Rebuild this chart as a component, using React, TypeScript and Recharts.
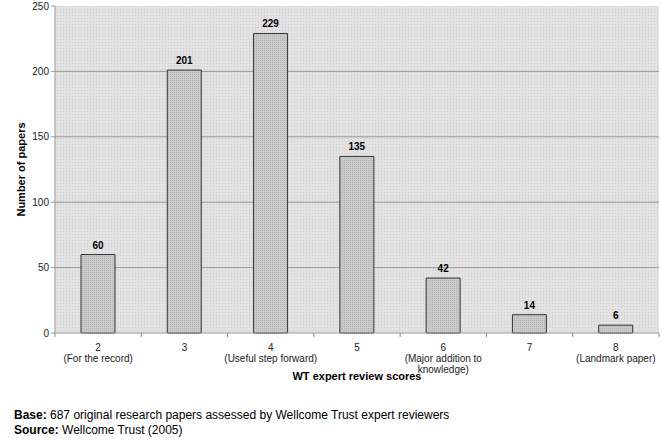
import { BarChart, Bar, XAxis, YAxis, CartesianGrid, LabelList, Label } from "recharts";

const scores = ["2", "3", "4", "5", "6", "7", "8"];
const scoreNotes = [["(For the record)"], [], ["(Useful step forward)"], [], ["(Major addition to", "knowledge)"], [], ["(Landmark paper)"]];
const papers = [60, 201, 229, 135, 42, 14, 6];
const yTicks = [0, 50, 100, 150, 200, 250];

const data = scores.map((s, i) => ({ score: s, papers: papers[i], idx: i }));

const font = "'Liberation Sans', Arial, sans-serif";
const W = 662;
const H = 441;
const plotLeft = 55;
const plotRight = 659;
const band = (plotRight - plotLeft) / scores.length;

const ScoreTick = ({ x, y, payload, index }: any) => {
  const notes = scoreNotes[index] || [];
  return (
    <g>
      <line x1={x - band / 2} x2={x - band / 2} y1={y - 8} y2={y - 4} stroke="#888" />
      {index === scores.length - 1 && (
        <line x1={x + band / 2} x2={x + band / 2} y1={y - 8} y2={y - 4} stroke="#888" />
      )}
      <text x={x} y={y + 10} textAnchor="middle" fontSize={10} fill="#222" fontFamily={font}>
        {payload.value}
      </text>
      {notes.map((n: string, k: number) => (
        <text key={k} x={x} y={y + 21 + k * 11} textAnchor="middle" fontSize={10} fill="#222" fontFamily={font}>
          {n}
        </text>
      ))}
    </g>
  );
};

export default function App() {
  return (
    <div style={{ position: "absolute", left: 0, top: 0, width: W, height: H, background: "#fff", fontFamily: font }}>
      <BarChart
        width={W}
        height={H}
        data={data}
        margin={{ top: 6, right: W - plotRight, left: 0, bottom: 68 }}
      >
        <defs>
          <pattern id="dots" width="3" height="3" patternUnits="userSpaceOnUse">
            <rect width="3" height="3" fill="#e2e2e2" />
            <rect width="1" height="1" fill="#cfcfcf" />
          </pattern>
          <pattern id="bardots" width="2" height="2" patternUnits="userSpaceOnUse">
            <rect width="2" height="2" fill="#cacaca" />
            <rect width="1" height="1" fill="#b4b4b4" />
          </pattern>
        </defs>
        <CartesianGrid vertical={false} stroke="#999" fill="url(#dots)" horizontalValues={[50, 100, 150, 200]} />
        <XAxis
          dataKey="score"
          axisLine={{ stroke: "#999" }}
          tickLine={false}
          interval={0}
          height={40}
          tick={<ScoreTick />}
        >
          <Label
            value="WT expert review scores"
            position="bottom"
            offset={-1}
            style={{ fontFamily: font, fontSize: 11, fontWeight: "bold", fill: "#000" }}
          />
        </XAxis>
        <YAxis
          width={plotLeft}
          domain={[0, 250]}
          ticks={yTicks}
          axisLine={{ stroke: "#999" }}
          tickLine={{ stroke: "#999" }}
          tickSize={4}
          tick={{ fontSize: 10, fill: "#222", fontFamily: font }}
        >
          <Label
            value="Number of papers"
            angle={-90}
            position="insideLeft"
            offset={21}
            style={{ fontFamily: font, fontSize: 11, fontWeight: "bold", fill: "#000", textAnchor: "middle" }}
          />
        </YAxis>
        <Bar dataKey="papers" barSize={34} fill="url(#bardots)" stroke="#333" strokeWidth={1} isAnimationActive={false}>
          <LabelList
            dataKey="papers"
            position="top"
            offset={6}
            style={{ fontFamily: font, fontSize: 10, fontWeight: "bold", fill: "#000" }}
          />
        </Bar>
      </BarChart>
      <div style={{ position: "absolute", left: 14, top: 408, fontSize: 12, lineHeight: "15px", color: "#000" }}>
        <div><b>Base:</b> 687 original research papers assessed by Wellcome Trust expert reviewers</div>
        <div><b>Source:</b> Wellcome Trust (2005)</div>
      </div>
    </div>
  );
}
